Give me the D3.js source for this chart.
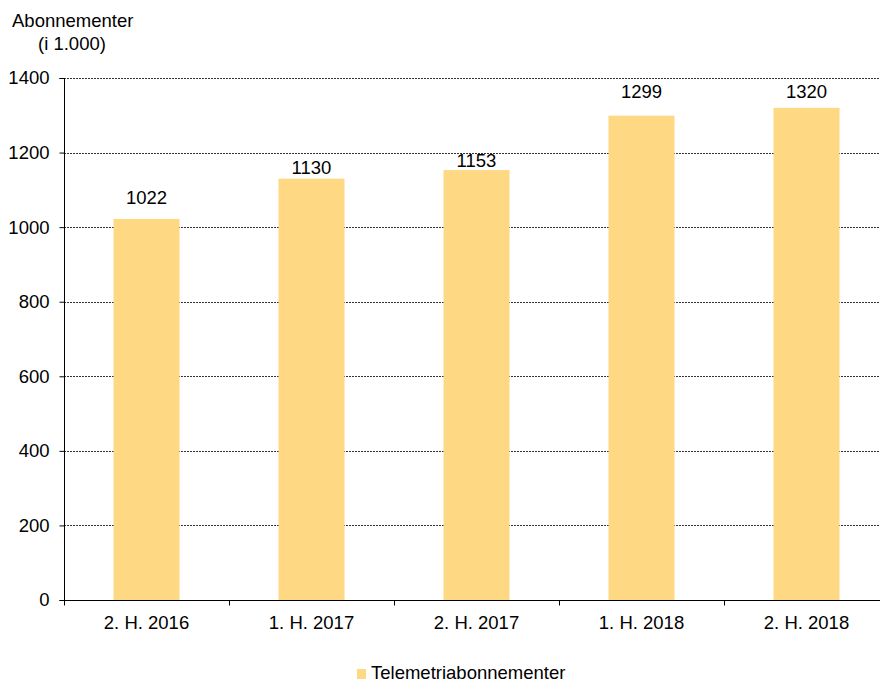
<!DOCTYPE html>
<html><head><meta charset="utf-8">
<script src="https://cdn.jsdelivr.net/npm/d3@7"></script>
<style>body{margin:0;background:#fff}svg{display:block;font-family:"Liberation Sans",Arial,sans-serif}</style>
</head><body><svg id="c" width="880" height="682"></svg>
<script>
const categories = ["2. H. 2016","1. H. 2017","2. H. 2017","1. H. 2018","2. H. 2018"];
const values = [1022,1130,1153,1299,1320];
const yTicks = [0,200,400,600,800,1000,1200,1400];
const seriesName = "Telemetriabonnementer";

(function(){
const svg = d3.select("#c");
const FS = 18.5;
const mL = 64, mR = 889, mT = 78, mB = 600;
const x = d3.scaleBand().domain(categories).range([mL, mR]).paddingInner(0).paddingOuter(0);
const y = d3.scaleLinear().domain([0,1400]).range([mB, mT]);
const color = "#FFD883";
// label gap above each bar (as placed in the reference)
const labelGap = [15, 5, 3, 18, 10];

// gridlines
svg.append("g").selectAll("line").data(yTicks.filter(d=>d>0)).join("line")
  .attr("x1", mL).attr("x2", 880).attr("y1", d=>Math.round(y(d))+0.5).attr("y2", d=>Math.round(y(d))+0.5)
  .attr("stroke", "#333").attr("stroke-width", 1).attr("stroke-dasharray", "2,1");

// bars
const bw = x.bandwidth()*0.4;
svg.append("g").selectAll("rect").data(values).join("rect")
  .attr("x", (d,i)=>x(categories[i]) + (x.bandwidth()-bw)/2)
  .attr("width", bw)
  .attr("y", d=>y(d)).attr("height", d=>mB-y(d))
  .attr("fill", color);

// value labels
svg.append("g").selectAll("text").data(values).join("text")
  .attr("x", (d,i)=>x(categories[i]) + x.bandwidth()/2)
  .attr("y", (d,i)=>y(d)-labelGap[i])
  .attr("text-anchor","middle").attr("font-size",FS).attr("fill","#000")
  .text(d=>d);

// y axis
const ya = svg.append("g").attr("transform", `translate(${mL+0.5},0)`)
  .call(d3.axisLeft(y).tickValues(yTicks).tickSize(5).tickPadding(10).tickFormat(d3.format("d")));
ya.select(".domain").attr("d", `M-5,${y(1400)+0.5}H0V${mB+0.5}H-5`).attr("stroke","#000");
ya.selectAll("text").attr("font-size",FS).attr("font-family","Liberation Sans, Arial, sans-serif").attr("fill","#000");
ya.selectAll(".tick line").attr("stroke","#000");

// x axis
const xa = svg.append("g").attr("transform", `translate(0,${mB+0.5})`)
  .call(d3.axisBottom(x).tickSize(0).tickPadding(15));
xa.select(".domain").attr("d", `M${mL},0H880`).attr("stroke","#000");
xa.selectAll("text").attr("font-size",FS).attr("font-family","Liberation Sans, Arial, sans-serif").attr("fill","#000");
xa.append("g").selectAll("line").data(categories.slice(1)).join("line")
  .attr("x1", d=>Math.round(x(d))+0.5).attr("x2", d=>Math.round(x(d))+0.5)
  .attr("y1",0).attr("y2",5).attr("stroke","#000");
xa.append("line").attr("x1",mL+0.5).attr("x2",mL+0.5).attr("y1",0).attr("y2",5).attr("stroke","#000");

// title
svg.append("text").attr("x",12).attr("y",27).attr("font-size",FS).text("Abonnementer");
svg.append("text").attr("x",38).attr("y",50).attr("font-size",FS).text("(i 1.000)");

// legend
svg.append("rect").attr("x",357).attr("y",669).attr("width",9).attr("height",10).attr("fill",color);
svg.append("text").attr("x",371).attr("y",679).attr("font-size",FS).text(seriesName);
})();
</script></body></html>
